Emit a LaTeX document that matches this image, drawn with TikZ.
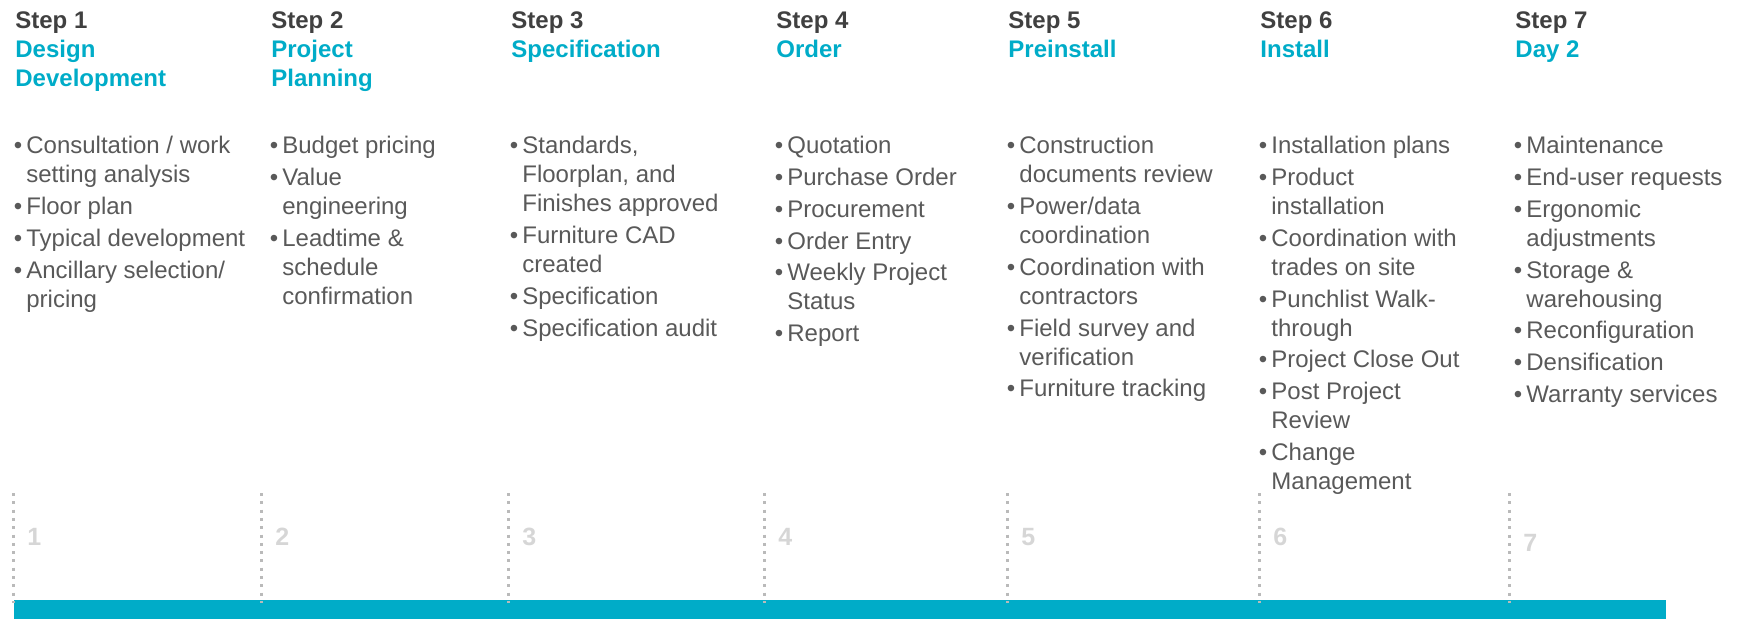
\documentclass[tikz,border=0pt]{standalone}
\usepackage{fontspec}
\setmainfont{Liberation Sans}
\usepackage{xcolor}
\definecolor{stepteal}{RGB}{0,172,200}
\definecolor{stepdark}{RGB}{64,64,64}
\definecolor{itemgray}{RGB}{89,89,89}
\definecolor{dotgray}{RGB}{186,186,186}
\definecolor{numgray}{RGB}{214,214,214}
\newcommand{\bl}{\makebox[5.5pt][l]{\hspace*{-0.8pt}\textbullet}}
\newcommand{\cn}{\hspace*{5.5pt}}
\newcommand{\nx}{\\[1.4pt]}

\begin{document}
\begin{tikzpicture}[x=0.5pt, y=-0.5pt,
	header/.style={anchor=north west, inner sep=0pt, align=left,
		font=\fontsize{12}{14.5}\selectfont\bfseries, text=stepdark},
	items/.style={anchor=north west, inner sep=0pt, align=left,
		font=\fontsize{12}{14.5}\selectfont, text=itemgray},
	stepline/.style={dotgray, line width=1.5pt, dash pattern=on 1.5pt off 2.65pt},
	stepnum/.style={anchor=base west, inner sep=0pt, text=numgray,
		font=\fontsize{12.5}{14}\selectfont\bfseries}]
	\useasboundingbox (0,0) rectangle (1738,619);

	% headers
	\node[header] (h1) at (15,11) {Step 1\\\textcolor{stepteal}{Design}\\\textcolor{stepteal}{Development}};
	\node[header] (h2) at (271,11) {Step 2\\\textcolor{stepteal}{Project}\\\textcolor{stepteal}{Planning}};
	\node[header] (h3) at (511,11) {Step 3\\\textcolor{stepteal}{Specification}};
	\node[header] (h4) at (776,11) {Step 4\\\textcolor{stepteal}{Order}};
	\node[header] (h5) at (1008,11) {Step 5\\\textcolor{stepteal}{Preinstall}};
	\node[header] (h6) at (1260,11) {Step 6\\\textcolor{stepteal}{Install}};
	\node[header] (h7) at (1515,11) {Step 7\\\textcolor{stepteal}{Day 2}};

	% bullet lists
	\node[items] (l1) at (15,136) {\bl Consultation / work\\\cn setting analysis\nx
		\bl Floor plan\nx \bl Typical development\nx
		\bl Ancillary selection/\\\cn pricing};
	\node[items] (l2) at (271,136) {\bl Budget pricing\nx \bl Value\\\cn engineering\nx
		\bl Leadtime \&\\\cn schedule\\\cn confirmation};
	\node[items] (l3) at (511,136) {\bl Standards,\\\cn Floorplan, and\\\cn Finishes approved\nx
		\bl Furniture CAD\\\cn created\nx \bl Specification\nx \bl Specification audit};
	\node[items] (l4) at (776,136) {\bl Quotation\nx \bl Purchase Order\nx \bl Procurement\nx
		\bl Order Entry\nx \bl Weekly Project\\\cn Status\nx \bl Report};
	\node[items] (l5) at (1008,136) {\bl Construction\\\cn documents review\nx
		\bl Power/data\\\cn coordination\nx \bl Coordination with\\\cn contractors\nx
		\bl Field survey and\\\cn verification\nx \bl Furniture tracking};
	\node[items] (l6) at (1260,136) {\bl Installation plans\nx \bl Product\\\cn installation\nx
		\bl Coordination with\\\cn trades on site\nx \bl Punchlist Walk-\\\cn through\nx
		\bl Project Close Out\nx \bl Post Project\\\cn Review\nx \bl Change\\\cn Management};
	\node[items] (l7) at (1515,136) {\bl Maintenance\nx \bl End-user requests\nx
		\bl Ergonomic\\\cn adjustments\nx \bl Storage \&\\\cn warehousing\nx
		\bl Reconfiguration\nx \bl Densification\nx \bl Warranty services};

	% timeline bar
	\fill[stepteal] (14,600) rectangle (1666,619);

	% dotted markers and numbers
	\foreach \x/\n/\y in {13/1/545, 261/2/545, 508/3/545, 764/4/545,
		1007/5/545, 1259/6/545, 1509/7/551} {
		\coordinate (t\n) at (\x,493);
		\coordinate (b\n) at (\x,603);
		\draw[stepline] (t\n) -- (b\n);
		\node[stepnum] (n\n) at (\x+14,\y) {\n};
	}
\end{tikzpicture}
\end{document}
